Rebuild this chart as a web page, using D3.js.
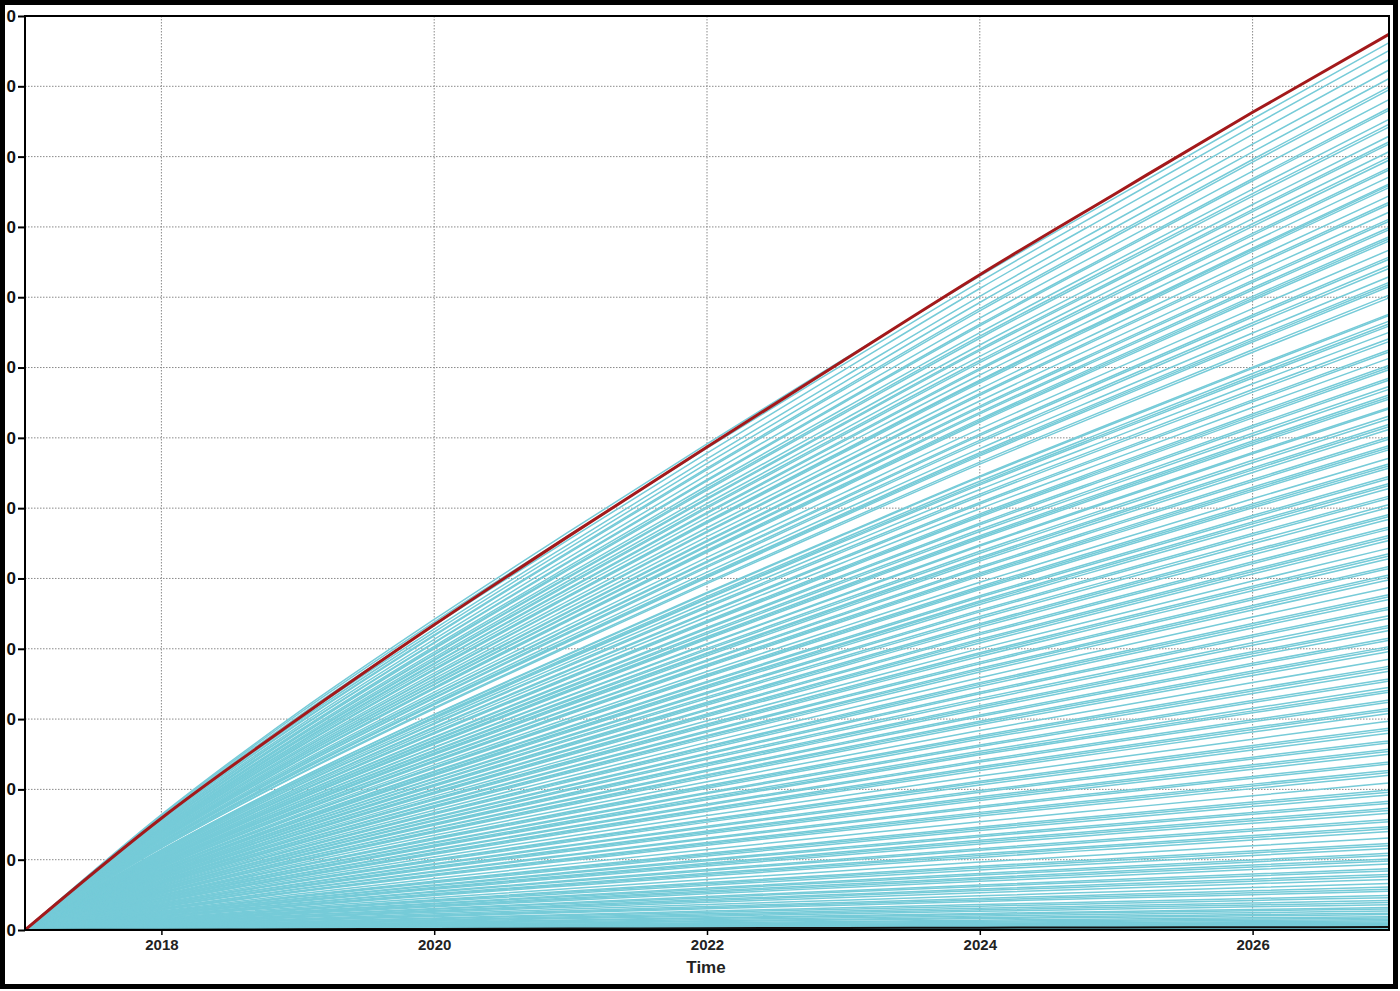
<!DOCTYPE html>
<html>
<head>
<meta charset="utf-8">
<script src="https://cdn.jsdelivr.net/npm/d3@7/dist/d3.min.js"></script>
<style>
  html, body { margin: 0; padding: 0; background: #fff; }
  svg { display: block; }
  text { font-family: "Liberation Sans", Arial, sans-serif; }
</style>
</head>
<body>
<svg id="chart" width="1400" height="991"></svg>
<script>
// ---------- DATA ----------
const years = [2017, 2018, 2019, 2020, 2021, 2022, 2023, 2024, 2025, 2026, 2027];
const xTickYears = [2018, 2020, 2022, 2024, 2026];
const yTickValues = [0, 100, 200, 300, 400, 500, 600, 700, 800, 900, 1000, 1100, 1200, 1300];

// upper envelope (red)
const redSeries = [0, 159, 300, 434, 562, 687, 810, 932, 1048, 1163, 1274];
// low series (black)
const blackSeries = [0, 0.5, 1.0, 1.5, 2.0, 2.5, 3.0, 3.3, 3.6, 3.9, 4.2];
// common growth profile of the cyan runs (fraction of final value per year)
const cyanShape = [0, 0.13, 0.245, 0.35, 0.45, 0.548, 0.643, 0.737, 0.826, 0.914, 1.0];
// final (2027) values of the cyan runs
const cyanEnds = [
  1262, 1251, 1238, 1223, 1211, 1199, 1195, 1181, 1169, 1166, 1153, 1146, 1142, 1129, 1121, 1118,
  1107, 1099, 1095, 1084, 1081, 1071, 1061, 1059, 1056, 1044, 1035, 1032, 1021, 1011, 1008, 999,
  996, 986, 983, 980, 967, 957, 954, 945, 941, 929, 921, 918, 915, 903, 899, 876, 874, 866,
  862, 859, 850, 841, 837, 825, 822, 813, 803, 800, 797, 785, 782, 773, 769, 761, 758, 755, 743,
  741, 731, 727, 719, 716, 712, 701, 698, 689, 686, 683, 671, 663, 660, 657, 645, 642, 635, 632,
  628, 617, 614, 605, 601, 591, 588, 584, 573, 570, 561, 558, 554, 543, 535, 532, 528, 517, 514,
  505, 502, 498, 487, 477, 474, 470, 459, 456, 447, 443, 433, 430, 426, 415, 412, 403, 400, 396,
  385, 375, 372, 368, 357, 354, 345, 341, 338, 327, 324, 315, 312, 308, 297, 287, 284, 280, 269,
  266, 257, 254, 250, 239, 236, 227, 224, 220, 209, 199, 196, 192, 183, 180, 173, 170, 166, 157,
  154, 147, 144, 140, 131, 123, 120, 116, 109, 106, 101, 98, 94, 87, 84, 79, 76, 72, 66, 61, 58,
  55, 49, 46, 42, 39, 36, 32, 30, 27, 24, 22, 19, 17, 15, 13, 11.5, 10, 9, 8, 7, 6, 5, 4, 3, 2, 1
];

// ---------- LAYOUT ----------
const svg = d3.select("#chart");
const W = 1400, H = 991;
const plot = { left: 25, top: 16, right: 1389, bottom: 930 };

const x = d3.scaleLinear().domain([2017, 2027]).range([plot.left, plot.right]);
const y = d3.scaleLinear().domain([0, 1300]).range([plot.bottom, plot.top]);

svg.append("rect").attr("width", W).attr("height", H).attr("fill", "#fff");

const defs = svg.append("defs");
defs.append("clipPath").attr("id", "plotClip")
  .append("rect").attr("x", plot.left).attr("y", plot.top)
  .attr("width", plot.right - plot.left).attr("height", plot.bottom - plot.top);

// grid
const grid = svg.append("g");
grid.selectAll("line.h").data(yTickValues.slice(1, -1)).join("line")
  .attr("x1", plot.left).attr("x2", plot.right)
  .attr("y1", d => y(d)).attr("y2", d => y(d))
  .attr("stroke", "#8a8a8a").attr("stroke-width", 1).attr("stroke-dasharray", "1.5,1.5");
grid.selectAll("line.v").data(xTickYears).join("line")
  .attr("x1", d => x(d)).attr("x2", d => x(d))
  .attr("y1", plot.top).attr("y2", plot.bottom)
  .attr("stroke", "#8a8a8a").attr("stroke-width", 1).attr("stroke-dasharray", "1.5,1.5");

// lines
const line = d3.line()
  .x((d, i) => x(years[i]))
  .y(d => y(d))
  .curve(d3.curveMonotoneX);

const lines = svg.append("g").attr("clip-path", "url(#plotClip)");
lines.selectAll("path.cyan").data(cyanEnds).join("path")
  .attr("class", "cyan")
  .attr("d", e => line(cyanShape.map(f => f * e)))
  .attr("fill", "none")
  .attr("stroke", "#76cbd8")
  .attr("stroke-width", 1.5);

lines.append("path")
  .attr("d", line(blackSeries))
  .attr("fill", "none").attr("stroke", "#111").attr("stroke-width", 2);

lines.append("path")
  .attr("d", line(redSeries))
  .attr("fill", "none").attr("stroke", "#a3191b").attr("stroke-width", 3);

// frame
svg.append("rect")
  .attr("x", plot.left).attr("y", plot.top)
  .attr("width", plot.right - plot.left).attr("height", plot.bottom - plot.top)
  .attr("fill", "none").attr("stroke", "#000").attr("stroke-width", 2);

// x axis
const xAxis = svg.append("g")
  .attr("transform", `translate(0,${plot.bottom})`)
  .call(d3.axisBottom(x).tickValues(xTickYears).tickFormat(d3.format("d")).tickSize(5).tickPadding(4));
xAxis.select(".domain").remove();
xAxis.selectAll("line").attr("stroke", "#000").attr("stroke-width", 1.5);
xAxis.selectAll("text").attr("font-size", 15).attr("font-weight", "bold").attr("fill", "#222")
  .attr("font-family", "Liberation Sans, Arial, sans-serif");

// y axis — the reference image is cropped so only the last digit of each label shows
const yAxis = svg.append("g")
  .attr("transform", `translate(${plot.left},0)`)
  .call(d3.axisLeft(y).tickValues(yTickValues)
    .tickFormat(d => String(d).slice(-1)).tickSize(7).tickPadding(2));
yAxis.select(".domain").remove();
yAxis.selectAll("line").attr("stroke", "#000").attr("stroke-width", 2);
yAxis.selectAll("text").attr("font-size", 17).attr("font-weight", "bold").attr("fill", "#111")
  .attr("font-family", "Liberation Sans, Arial, sans-serif");

// x label
svg.append("text")
  .attr("x", (plot.left + plot.right) / 2 - 1).attr("y", 973)
  .attr("text-anchor", "middle")
  .attr("font-size", 17).attr("font-weight", "bold").attr("fill", "#222")
  .text("Time");

// outer border
svg.append("rect")
  .attr("x", 2.5).attr("y", 2.5).attr("width", 1393).attr("height", 984)
  .attr("fill", "none").attr("stroke", "#000").attr("stroke-width", 5);
</script>
</body>
</html>
